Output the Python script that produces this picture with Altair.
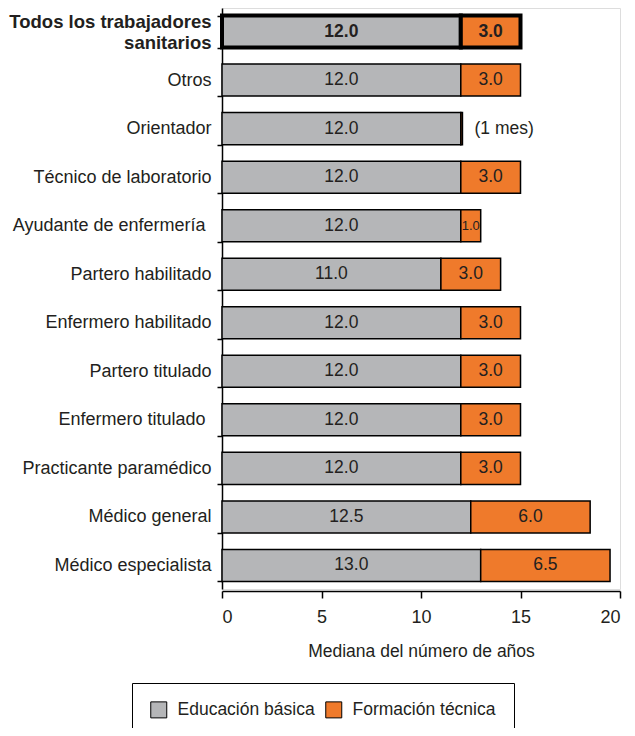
import altair as alt
import pandas as pd

categories = [
    "Todos los trabajadores sanitarios", "Otros", "Orientador", "Técnico de laboratorio",
    "Ayudante de enfermería", "Partero habilitado", "Enfermero habilitado", "Partero titulado",
    "Enfermero titulado", "Practicante paramédico", "Médico general", "Médico especialista",
]
basic = [12.0, 12.0, 12.0, 12.0, 12.0, 11.0, 12.0, 12.0, 12.0, 12.0, 12.5, 13.0]
technical = [3.0, 3.0, 1 / 12, 3.0, 1.0, 3.0, 3.0, 3.0, 3.0, 3.0, 6.0, 6.5]
tech_labels = ["3.0", "3.0", "(1 mes)", "3.0", "1.0", "3.0", "3.0", "3.0", "3.0", "3.0", "6.0", "6.5"]
series = ["Educación básica", "Formación técnica"]
x_ticks = [0, 5, 10, 15, 20]

TOTAL = categories[0]
FS = 17.5
rows = []
for c, b, t, tl in zip(categories, basic, technical, tech_labels):
    rows.append(dict(cat=c, serie=series[0], start=0.0, end=b, mid=b / 2, label=f"{b:.1f}",
                     fs=FS, outside=False, total=(c == TOTAL)))
    rows.append(dict(cat=c, serie=series[1], start=b, end=b + t, mid=b + t / 2, label=tl,
                     fs=13 if 0.5 <= t < 2 else FS, outside=(t < 0.5), total=(c == TOTAL)))
df = pd.DataFrame(rows)

TXT = "#231f20"
FONT = "Liberation Sans"
is_total = "datum.value == 'Todos los trabajadores sanitarios'"
is_spaced = "(datum.value == 'Ayudante de enfermería' || datum.value == 'Enfermero titulado')"
label_expr = is_total + " ? ['Todos los trabajadores', 'sanitarios'] : datum.value"

y_enc = alt.Y(
    "cat:N", sort=categories, title=None,
    scale=alt.Scale(paddingInner=0.34, paddingOuter=0.155),
    axis=alt.Axis(
        tickBand="extent", tickSize=5,
        labelPadding={"condition": {"test": is_spaced, "value": 12}, "value": 6},
        labelFontSize={"condition": {"test": is_total, "value": 18.5}, "value": 18},
        labelOffset={"condition": {"test": is_total, "value": -10}, "value": 0},
        labelColor=TXT, labelFont=FONT, labelLineHeight=21, labelLimit=300,
        domainColor="black", tickColor="black", domainWidth=1.5, tickWidth=1.5,
        labelExpr=label_expr,
        labelFontWeight={"condition": {"test": is_total, "value": "bold"}, "value": "normal"},
    ),
)

base = alt.Chart(df)

bars = base.mark_bar(stroke="black").encode(
    y=y_enc,
    x=alt.X(
        "start:Q", scale=alt.Scale(domain=[0, 20], nice=False),
        axis=alt.Axis(
            values=x_ticks, grid=False, title="Mediana del número de años",
            titleFontWeight="normal", titleFontSize=FS, titleColor=TXT, titleFont=FONT,
            titlePadding=16, labelFontSize=18, labelColor=TXT, labelFont=FONT,
            tickSize=7, labelPadding=10, domainColor="black", tickColor="black",
            domainWidth=1.5, tickWidth=1.5, offset=2,
        ),
    ),
    x2="end:Q",
    color=alt.Color(
        "serie:N",
        scale=alt.Scale(domain=series, range=["#b5b6b8", "#ef7a2b"]),
        legend=alt.Legend(
            title=None, orient="none", legendX=-90, legendY=675, direction="horizontal",
            strokeColor="black", padding=18, fillColor="white",
            symbolType="square", symbolSize=256, symbolStrokeColor="black",
            symbolStrokeWidth=1, labelFontSize=FS, labelFont=FONT, labelColor=TXT,
            columnPadding=8, labelOffset=10,
        ),
    ),
    strokeWidth=alt.condition(alt.datum.total, alt.value(4), alt.value(1.5)),
)

inside = base.transform_filter(
    (~alt.datum.outside) & (~alt.datum.total)
).mark_text(font=FONT, color=TXT).encode(
    y=alt.Y("cat:N", sort=categories),
    x="mid:Q",
    text="label:N",
    size=alt.Size("fs:Q", scale=None, legend=None),
)

inside_total = base.transform_filter(alt.datum.total).mark_text(
    font=FONT, color=TXT, fontWeight="bold", fontSize=FS
).encode(
    y=alt.Y("cat:N", sort=categories),
    x="mid:Q",
    text="label:N",
)

outside = base.transform_filter(alt.datum.outside).mark_text(
    font=FONT, color=TXT, fontSize=FS, align="left", dx=12
).encode(
    y=alt.Y("cat:N", sort=categories),
    x="end:Q",
    text="label:N",
)

chart = alt.layer(bars, inside, inside_total, outside).properties(
    width=398, height=581,
    autosize=alt.AutoSizeParams(type="none"),
    padding={"left": 214, "top": 0, "right": 7, "bottom": 139},
).configure_view(stroke=None).configure(background="white")

chart.save("out.html", embed_options={"renderer": "svg", "actions": False})
